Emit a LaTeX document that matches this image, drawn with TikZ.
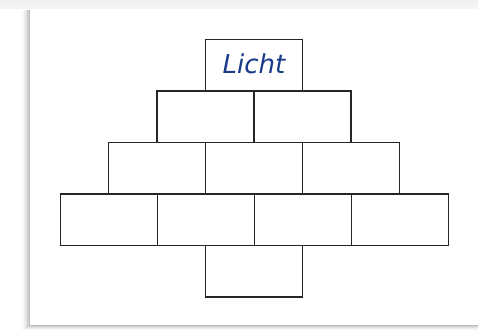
\documentclass[tikz,border=0pt]{standalone}
\usepackage{fontspec}
\newfontfamily\handfont{DejaVu Sans}
\definecolor{ink}{HTML}{1A3A8A}
\definecolor{edge}{HTML}{262626}
\begin{document}
\begin{tikzpicture}[x=1pt,y=-1pt,
  brick/.style={draw=edge, line width=1.4pt, minimum width=97pt, minimum height=51.5pt, inner sep=0pt, outer sep=0pt, anchor=north west}]
\useasboundingbox (0,0) rectangle (478,329);
\fill[white] (0,0) rectangle (478,329);
% top grey band
\shade[top color=gray!12, bottom color=gray!6] (0,0) rectangle (478,9);
% card shadow
\foreach \d/\o in {8/0.03,6/0.04,4.5/0.05,3/0.07,1.5/0.09}{
  \fill[black, opacity=\o] (30-\d,9+1) rectangle (478,325+\d*0.6);
}
\fill[white] (30,9) rectangle (478,325);
% bricks
\node[brick] (top) at (205.5,39.5) {};
\node[brick] (r2a) at (157,90.8) {};
\node[brick] (r2b) at (254,90.8) {};
\node[brick] (r3a) at (108.5,142.3) {};
\node[brick] (r3b) at (205.5,142.3) {};
\node[brick] (r3c) at (302.5,142.3) {};
\node[brick] (r4a) at (60.3,193.8) {};
\node[brick] (r4b) at (157.3,193.8) {};
\node[brick] (r4c) at (254.3,193.8) {};
\node[brick] (r4d) at (351.3,193.8) {};
\node[brick] (bot) at (205.5,245.3) {};
\node[text=ink, font=\handfont\itshape\fontsize{26}{30}\selectfont, inner sep=0pt] (licht) at ([yshift=1pt]top.center) {Licht};
\end{tikzpicture}
\end{document}
